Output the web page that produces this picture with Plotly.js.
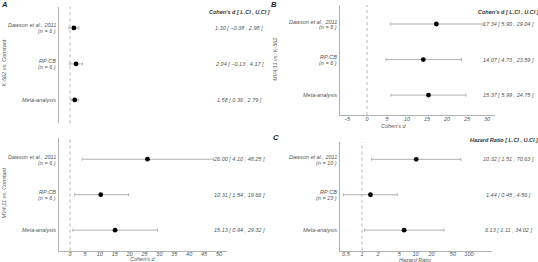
<!DOCTYPE html>
<html>
<head>
<meta charset="utf-8">
<script src="https://cdn.plot.ly/plotly-3.0.1.min.js"></script>
<style>html,body{margin:0;padding:0;background:#fff;}#chart{width:538px;height:262px;}</style>
</head>
<body>
<div id="chart"></div>
<script>
// ---------- data ----------
const studyKeys = ['Dawson', 'RPCB', 'Meta'];
const studyNames = ['Dawson et al., 2011', 'RP:CB', 'Meta-analysis'];
const nCohen = ['6', '6', null];
const nHazard = ['10', '23', null];

// Panel A (top): K-562 vs. Constant, Cohen's d
const k562Est = [1.30, 2.04, 1.58];
const k562Lo = [-0.38, -0.13, 0.36];
const k562Hi = [2.98, 4.17, 2.79];

// Panel A (bottom): MV4;11 vs. Constant, Cohen's d
const mvConstEst = [26.00, 10.31, 15.13];
const mvConstLo = [4.10, 1.54, 0.94];
const mvConstHi = [48.25, 19.66, 29.32];

// Panel B: MV4;11 vs. K-562, Cohen's d
const mvK562Est = [17.34, 14.07, 15.37];
const mvK562Lo = [5.90, 4.73, 5.99];
const mvK562Hi = [29.04, 23.59, 24.75];

// Panel C: Hazard ratio
const hrEst = [10.32, 1.44, 6.13];
const hrLo = [1.51, 0.45, 1.11];
const hrHi = [70.63, 4.56, 34.02];

const cohenTicks = [0, 5, 10, 15, 20, 25, 30, 35, 40, 45, 50];
const cohenTicksB = [-5, 0, 5, 10, 15, 20, 25, 30];
const hrTicks = [0.5, 1, 2, 5, 10, 20, 50, 100];
const hrTickText = ['0.5', '1', '2', '5', '10', '20', '50', '100'];
const nullValues = [0, 0, 0, 1];

// ---------- style ----------
const FONT = 'Liberation Sans, Arial, sans-serif';
const TXT = '#555';
const LINE = '#b0b0b0';

function trace(est, lo, hi, xa, ya) {
  return {
    type: 'scatter', mode: 'markers',
    x: est, y: studyKeys, xaxis: xa, yaxis: ya,
    error_x: {
      type: 'data', symmetric: false,
      array: est.map((v, i) => hi[i] - v),
      arrayminus: est.map((v, i) => v - lo[i]),
      color: '#a0a0a0', thickness: 0.8, width: 1.5
    },
    marker: {color: '#000', size: 4.8, symbol: 'circle'},
    hoverinfo: 'skip', showlegend: false, cliponaxis: false
  };
}

const data = [
  trace(k562Est, k562Lo, k562Hi, 'x', 'y'),
  trace(mvConstEst, mvConstLo, mvConstHi, 'x2', 'y2'),
  trace(mvK562Est, mvK562Lo, mvK562Hi, 'x3', 'y3'),
  trace(hrEst, hrLo, hrHi, 'x4', 'y4')
];

function xax(domain, range, anchor, extra) {
  return Object.assign({
    domain: domain, range: range, anchor: anchor,
    showgrid: false, zeroline: false, showline: true, linecolor: LINE, linewidth: 1,
    ticks: '', ticklabelstandoff: -2,
    tickfont: {family: FONT, size: 5.5, color: TXT, style: 'italic'},
    fixedrange: true
  }, extra || {});
}
function yax(domain, range, anchor) {
  return {
    domain: domain, range: range, anchor: anchor, type: 'category',
    categoryorder: 'array', categoryarray: studyKeys,
    showticklabels: false,
    showgrid: false, zeroline: false, showline: true, linecolor: LINE, linewidth: 1,
    ticks: '', fixedrange: true
  };
}

const annFont = {family: FONT, size: 5.5, color: TXT, style: 'italic'};
const headFont = {family: FONT, size: 5.5, color: '#333', style: 'italic', weight: 'bold'};
const letterFont = {family: FONT, size: 7.5, color: '#222', style: 'italic', weight: 'bold'};

const annotations = [];
function fmt(v) { return v.toFixed(2).replace('-', '\u2212'); }
function addValues(est, lo, hi, yref, xc) {
  est.forEach((v, i) => {
    annotations.push({
      xref: 'paper', yref: yref, x: xc, y: i, xanchor: 'center', yanchor: 'middle',
      text: fmt(v) + ' [ ' + fmt(lo[i]) + ' , ' + fmt(hi[i]) + ' ]',
      showarrow: false, font: annFont
    });
  });
}
function addLabels(ns, yref, xr) {
  studyNames.forEach((name, i) => {
    const twoLines = !!ns[i];
    annotations.push({
      xref: 'paper', yref: yref, x: xr / 538, y: i, xanchor: 'right', yanchor: 'middle',
      yshift: twoLines ? 2.5 : 0, text: name, showarrow: false, font: annFont
    });
    if (twoLines) {
      annotations.push({
        xref: 'paper', yref: yref, x: xr / 538, y: i, xanchor: 'right', yanchor: 'middle',
        yshift: -3.4, text: '(n = ' + ns[i] + ' )', showarrow: false, font: annFont
      });
    }
  });
}
addValues(k562Est, k562Lo, k562Hi, 'y', 239 / 538);
addValues(mvConstEst, mvConstLo, mvConstHi, 'y2', 239 / 538);
addValues(mvK562Est, mvK562Lo, mvK562Hi, 'y3', 508 / 538);
addValues(hrEst, hrLo, hrHi, 'y4', 508 / 538);
addLabels(nCohen, 'y', 58);
addLabels(nCohen, 'y2', 58);
addLabels(nCohen, 'y3', 338.5);
addLabels(nHazard, 'y4', 338.5);

function paperText(text, px, py, font, angle) {
  annotations.push({
    xref: 'paper', yref: 'paper', x: px / 538, y: 1 - py / 262,
    xanchor: 'center', yanchor: 'middle', text: text, showarrow: false,
    font: font, textangle: angle || 0
  });
}
paperText("Cohen's <i>d</i> [ L.CI , U.CI ]", 239, 12, headFont);
paperText("Cohen's <i>d</i> [ L.CI , U.CI ]", 508, 12, headFont);
paperText('Hazard Ratio [ L.CI , U.CI ]', 504, 140, headFont);
paperText('A', 3.5, 4, letterFont);
paperText('B', 274, 4.5, letterFont);
paperText('C', 276, 137, letterFont);
paperText('K-562 vs. Constant', 3.5, 63, annFont, -90);
paperText('MV4;11 vs. Constant', 3.5, 193, annFont, -90);
paperText('MV4;11 vs. K-562', 275, 60, annFont, -90);
paperText("Cohen's <i>d</i>", 143, 259.3, annFont);
paperText("Cohen's <i>d</i>", 394, 126, annFont);
paperText('Hazard Ratio', 415, 259.5, annFont);

const shapes = ['x', 'x2', 'x3', 'x4'].map((xa, i) => ({
  type: 'line', xref: xa, yref: (i === 0 ? 'y' : 'y' + (i + 1)) + ' domain',
  x0: nullValues[i], x1: nullValues[i], y0: 0, y1: 1,
  line: {color: '#9a9a9a', width: 0.7, dash: 'dot'}
}));

const layout = {
  width: 538, height: 262,
  margin: {l: 0, r: 0, t: 0, b: 0, pad: 0},
  paper_bgcolor: '#fff', plot_bgcolor: '#fff',
  font: {family: FONT, size: 5.5, color: TXT},
  showlegend: false,
  xaxis: xax([59.3 / 538, 226.7 / 538], [-3.6, 52.6], 'y', {showline: false, showticklabels: false}),
  yaxis: yax([1 - 123.3 / 262, 1 - 6.7 / 262], [2.65, -0.59], 'x'),
  xaxis2: xax([59.3 / 538, 226.7 / 538], [-3.6, 52.6], 'y2', {tickmode: 'array', tickvals: cohenTicks}),
  yaxis2: yax([1 - 250.7 / 262, 1 - 138.3 / 262], [2.58, -0.59], 'x2'),
  xaxis3: xax([339.7 / 538, 495 / 538], [-6.83, 32], 'y3', {tickmode: 'array', tickvals: cohenTicksB}),
  yaxis3: yax([1 - 115 / 262, 1 - 5 / 262], [2.56, -0.535], 'x3'),
  xaxis4: xax([340 / 538, 492 / 538], [-0.411, 2.43], 'y4', {type: 'log', tickmode: 'array', tickvals: hrTicks, ticktext: hrTickText}),
  yaxis4: yax([1 - 250.7 / 262, 1 - 142 / 262], [2.58, -0.49], 'x4'),
  annotations: annotations,
  shapes: shapes
};

Plotly.newPlot('chart', data, layout, {staticPlot: true, displayModeBar: false});
</script>
</body>
</html>
